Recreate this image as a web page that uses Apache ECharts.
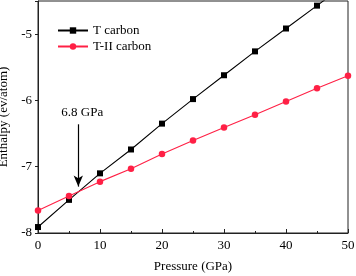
<!DOCTYPE html>
<html><head><meta charset="utf-8">
<script src="https://cdn.jsdelivr.net/npm/echarts@6/dist/echarts.min.js"></script>
<style>html,body{margin:0;padding:0;background:#fff}#c{width:356px;height:276px}</style>
</head><body><div id="c"></div>
<script>
const pressure = [0, 5, 10, 15, 20, 25, 30, 35, 40, 45, 50];
const tCarbon = [-7.91, -7.50, -7.10, -6.74, -6.35, -5.98, -5.62, -5.26, -4.915, -4.57, -4.22];
const t2Carbon = [-7.66, -7.44, -7.225, -7.03, -6.81, -6.605, -6.41, -6.215, -6.015, -5.817, -5.626];
const seriesNames = ['T carbon', 'T-II carbon'];
const arrowX = 6.5, arrowTop = -6.36, arrowBottom = -7.3;
const arrowLabel = '6.8 GPa';
const FONT = 'Liberation Serif';
const chart = echarts.init(document.getElementById('c'), null, {renderer: 'canvas'});
chart.setOption({
  animation: false,
  textStyle: {fontFamily: FONT},
  grid: {left: 38, right: 8, top: 1, height: 232, show: true, borderColor: '#222', borderWidth: 1,
    outerBoundsMode: 'none', containLabel: false},
  legend: {
    orient: 'vertical', left: 52, top: 19, itemWidth: 30, itemHeight: 8, itemGap: 3,
    textStyle: {fontFamily: FONT, fontSize: 13, color: '#000'},
    data: seriesNames
  },
  xAxis: {
    type: 'value', min: 0, max: 50, interval: 10,
    name: 'Pressure (GPa)', nameLocation: 'middle', nameGap: 27,
    nameTextStyle: {fontFamily: FONT, fontSize: 13, color: '#000'},
    axisLine: {lineStyle: {color: '#222'}},
    axisTick: {inside: true, length: 4, lineStyle: {color: '#222'}},
    minorTick: {show: true, splitNumber: 2, length: 2, lineStyle: {color: '#222'}},
    axisLabel: {fontFamily: FONT, fontSize: 13, color: '#000', margin: 6},
    splitLine: {show: false}
  },
  yAxis: {
    type: 'value', min: -8, max: -4.5, interval: 1,
    name: 'Enthalpy (ev/atom)', nameLocation: 'middle', nameGap: 21,
    nameTextStyle: {fontFamily: FONT, fontSize: 13, color: '#000'},
    axisLine: {lineStyle: {color: '#222'}},
    axisTick: {inside: false, length: 3, lineStyle: {color: '#222'}},
    axisLabel: {fontFamily: FONT, fontSize: 13, color: '#000', margin: 6,
      formatter: v => Number.isInteger(v) ? String(v) : ''},
    splitLine: {show: false}
  },
  series: [
    {
      name: seriesNames[0], type: 'line', clip: true,
      data: pressure.map((p, i) => [p, tCarbon[i]]),
      symbol: 'rect', symbolSize: 6,
      lineStyle: {color: '#000', width: 1.1}, itemStyle: {color: '#000'},
      markLine: {
        silent: true, symbol: ['none', 'arrow'], symbolSize: [7, 11],
        lineStyle: {color: '#000', width: 1.2, type: 'solid'},
        label: {show: true, position: 'start', formatter: arrowLabel, fontFamily: FONT, fontSize: 13, color: '#000', distance: 5, offset: [4, 0]},
        data: [[{coord: [arrowX, arrowTop]}, {coord: [arrowX, arrowBottom]}]]
      }
    },
    {
      name: seriesNames[1], type: 'line', clip: true,
      data: pressure.map((p, i) => [p, t2Carbon[i]]),
      symbol: 'circle', symbolSize: 6.5,
      lineStyle: {color: '#ff2045', width: 1.1}, itemStyle: {color: '#ff2045'}
    }
  ]
});
</script></body></html>
